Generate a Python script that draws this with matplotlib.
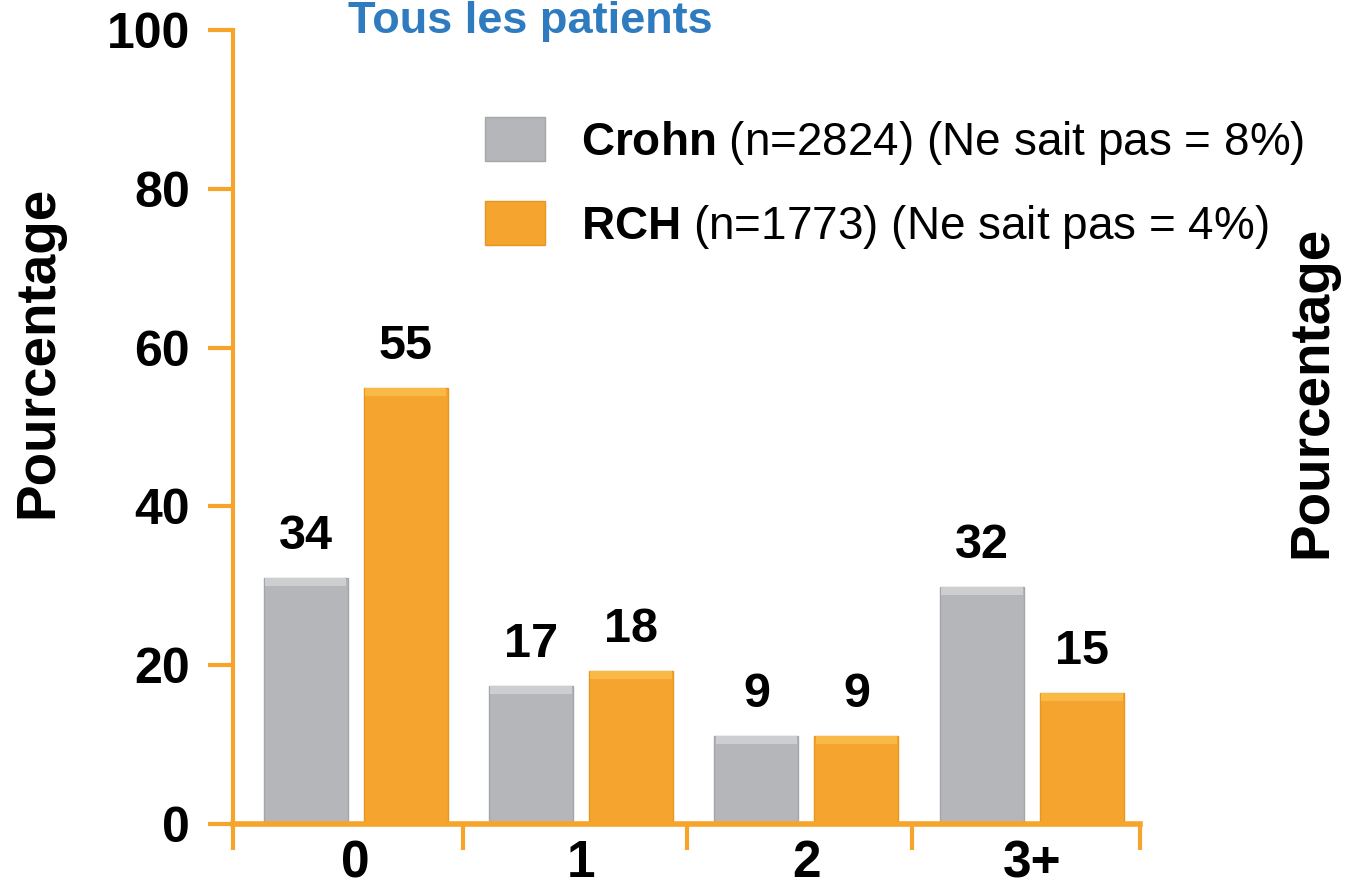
import matplotlib
matplotlib.use("Agg")
import matplotlib.pyplot as plt
from matplotlib.patches import Patch
import numpy as np

categories = ["0", "1", "2", "3+"]
crohn_heights = [31, 17.4, 11.1, 29.9]
rch_heights = [54.9, 19.3, 11.1, 16.5]
crohn_labels = ["34", "17", "9", "32"]
rch_labels = ["55", "18", "9", "15"]
y_ticks = [0, 20, 40, 60, 80, 100]

gris = "#B5B6B9"
gris_clair = "#CDCED0"
orange = "#F5A52F"
orange_clair = "#F9B947"
axe_orange = "#F7A42A"
bleu = "#2E7BBF"

plt.rcParams["font.family"] = ["Liberation Sans", "DejaVu Sans"]
plt.rcParams["mathtext.fontset"] = "custom"
plt.rcParams["mathtext.bf"] = "Liberation Sans:bold"
plt.rcParams["mathtext.rm"] = "Liberation Sans"

fig = plt.figure(figsize=(13.49, 8.89), dpi=100)
ax = fig.add_axes([233 / 1349, 1 - 824 / 889, (1140 - 233) / 1349, (824 - 30) / 889])

x = np.arange(len(categories))
decal = 0.222
largeur = 0.373
ax.bar(x - decal, crohn_heights, largeur, color=gris, edgecolor="#A5A6A9", linewidth=1, zorder=2)
ax.bar(x + decal, rch_heights, largeur, color=orange, edgecolor="#E8961E", linewidth=1, zorder=2)
# léger reflet en haut des barres (effet biseau)
bande = 1.0
ax.bar(x - decal, bande, largeur * 0.97, bottom=np.array(crohn_heights) - bande,
       color=gris_clair, linewidth=0, zorder=3)
ax.bar(x + decal, bande, largeur * 0.97, bottom=np.array(rch_heights) - bande,
       color=orange_clair, linewidth=0, zorder=3)

for xi, h, lab in zip(x - decal, crohn_heights, crohn_labels):
    ax.text(xi, h + 5.2, lab, ha="center", va="center", fontsize=35, fontweight="bold")
for xi, h, lab in zip(x + decal, rch_heights, rch_labels):
    ax.text(xi, h + 5.2, lab, ha="center", va="center", fontsize=35, fontweight="bold")

ax.set_xlim(-0.544, 3.48)
ax.set_ylim(0, 100)

# axes style
for s in ["top", "right"]:
    ax.spines[s].set_visible(False)
ax.spines["left"].set_color(axe_orange)
ax.spines["left"].set_linewidth(3)
ax.spines["bottom"].set_color(axe_orange)
ax.spines["bottom"].set_linewidth(4)
ax.spines["bottom"].set_zorder(4)

ax.set_yticks(y_ticks)
ax.set_yticklabels([str(v) for v in y_ticks], fontsize=36, fontweight="bold")
ax.tick_params(axis="y", length=18, width=3, color=axe_orange, pad=13)

ax.set_xticks([-0.544, 0.477, 1.47, 2.47, 3.48])
ax.set_xticklabels([])
ax.tick_params(axis="x", which="major", length=19, width=3, color=axe_orange)
ax.set_xticks(x, minor=True)
ax.set_xticklabels(categories, minor=True, fontsize=37, fontweight="bold")
ax.tick_params(axis="x", which="minor", length=0, pad=11)

# titre et axes
fig.text(530 / 1349, 1 - 33 / 889, "Tous les patients", color=bleu, fontsize=32.5,
         fontweight="bold", ha="center", va="baseline")
fig.text(38 / 1349, 1 - 352 / 889, "Pourcentage", rotation=90, fontsize=39.5,
         fontweight="bold", ha="center", va="center")
fig.text(1312 / 1349, 1 - 392 / 889, "Pourcentage", rotation=90, fontsize=39.5,
         fontweight="bold", ha="center", va="center")

# légende
handles = [Patch(facecolor=gris, edgecolor="#A5A6A9"), Patch(facecolor=orange, edgecolor="#E8961E")]
labels = [r"$\bf{Crohn}$ (n=2824) (Ne sait pas = 8%)", r"$\bf{RCH}$ (n=1773) (Ne sait pas = 4%)"]
fig.legend(handles, labels, loc="upper left", bbox_to_anchor=(485 / 1349, 1 - 117 / 889),
           frameon=False, fontsize=33, handlelength=1.3, handleheight=1.1,
           handletextpad=0.8, labelspacing=0.75, borderpad=0, borderaxespad=0)

fig.savefig("out.png", dpi=100)
